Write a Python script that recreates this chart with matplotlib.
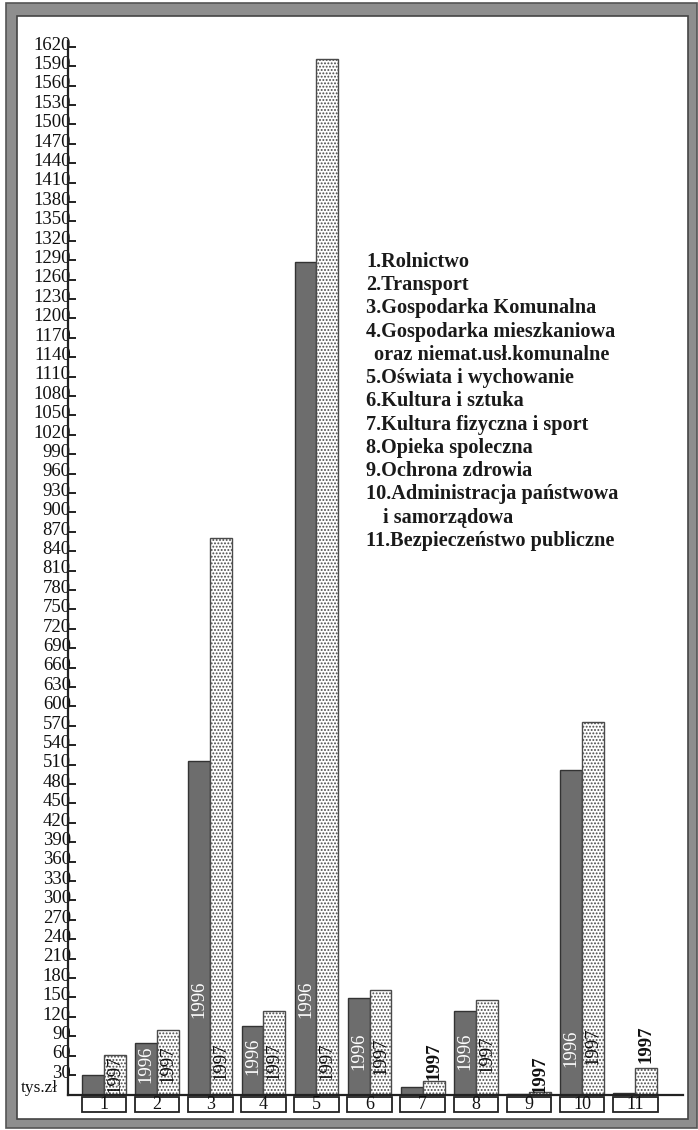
import matplotlib
matplotlib.use('Agg')
import matplotlib.pyplot as plt
from matplotlib.patches import Rectangle
from matplotlib.transforms import ScaledTranslation
import numpy as np

# ---------------- data ----------------
categories = ['1', '2', '3', '4', '5', '6', '7', '8', '9', '10', '11']
values_1996 = [30, 80, 515, 106, 1287, 149, 11, 129, 1, 502, 2]
values_1997 = [61, 99, 860, 129, 1601, 161, 21, 146, 4, 576, 41]
year_labels = ['1996', '1997']
ytick_values = list(range(30, 1621, 30))
unit_label = 'tys.zł'
legend_lines = [
    '1.Rolnictwo',
    '2.Transport',
    '3.Gospodarka Komunalna',
    '4.Gospodarka mieszkaniowa',
    'oraz niemat.usł.komunalne',
    '5.Oświata i wychowanie',
    '6.Kultura i sztuka',
    '7.Kultura fizyczna i sport',
    '8.Opieka spoleczna',
    '9.Ochrona zdrowia',
    '10.Administracja państwowa',
    'i samorządowa',
    '11.Bezpieczeństwo publiczne',
]

# ---------------- layout ----------------
W, H = 698, 1130
SERIF = 'Liberation Serif'
# bottom (data units) of the rotated year labels; None = no label
lab96_bottom = [None, 18, 118, 30, 118, 38, None, 38, None, 42, None]
lab97_bottom = [2, 18, 22, 22, 22, 30, 22, 33, 2, 46, 49]
lab97_outside = [False, False, False, False, False, False, True, False, True, False, True]
legend_x = [366, 366, 366, 366, 374, 366, 366, 366, 366, 366, 366, 383, 366]
legend_y0, legend_dy = 262, 23.25

fig = plt.figure(figsize=(W / 100, H / 100), dpi=100)
fig.patch.set_facecolor('white')

def fx(px):
    return px / W

def fy(py):
    return 1 - py / H

# frame
outer = Rectangle((fx(6), fy(1128)), fx(697) - fx(6), fy(3) - fy(1128),
                  transform=fig.transFigure, facecolor='#8e8e8e',
                  edgecolor='#555555', lw=1.2, zorder=-10)
inner = Rectangle((fx(17), fy(1119)), fx(688) - fx(17), fy(16) - fy(1119),
                  transform=fig.transFigure, facecolor='white',
                  edgecolor='#444444', lw=1.2, zorder=-9)
fig.patches.extend([outer, inner])

ax_left, ax_right = 68, 683
ax_top, ax_base = 41, 1094.5
ax = fig.add_axes([fx(ax_left), fy(ax_base), (ax_right - ax_left) / W,
                   (ax_base - ax_top) / H])
ax.patch.set_alpha(0)

x = np.arange(len(categories))
w = 0.41
ax.bar(x - w, values_1996, width=w, align='edge', color='#6d6d6d',
       edgecolor='#333333', linewidth=1.0, zorder=2)
plt.rcParams['hatch.linewidth'] = 0.9
ax.bar(x, values_1997, width=w, align='edge', color='white',
       edgecolor='#4a4a4a', hatch='.....', linewidth=1.0, zorder=2)

ax.set_xlim(-0.678, 10.9)
ax.set_ylim(0, 1629)

for s in ['top', 'right']:
    ax.spines[s].set_visible(False)
ax.spines['left'].set_linewidth(1.6)
ax.spines['bottom'].set_linewidth(1.6)
ax.spines['left'].set_color('#222222')
ax.spines['bottom'].set_color('#222222')

ax.set_xticks([])
ax.set_yticks(ytick_values)
ax.set_yticklabels([str(v) for v in ytick_values], fontsize=13.5,
                   family=SERIF, color='#111111')
ax.tick_params(axis='y', direction='in', length=5.5, width=1.4, pad=-2,
               color='#222222')
shift = ScaledTranslation(0, -2 / 72, fig.dpi_scale_trans)
for lbl in ax.get_yticklabels():
    lbl.set_verticalalignment('baseline')
    lbl.set_transform(lbl.get_transform() + shift)

# year labels in/above bars
for i in range(len(categories)):
    if lab96_bottom[i] is not None:
        ax.text(x[i] - w / 2, lab96_bottom[i], year_labels[0], rotation=90,
                ha='center', va='bottom', fontsize=13.5, family=SERIF,
                color='white', zorder=3)
    if lab97_bottom[i] is not None:
        ax.text(x[i] + w / 2, lab97_bottom[i], year_labels[1], rotation=90,
                ha='center', va='bottom', fontsize=13.5, family=SERIF,
                color='#111111', zorder=3,
                fontweight='bold' if lab97_outside[i] else 'normal')

# category number boxes below the axis
for i, c in enumerate(categories):
    ax.add_patch(Rectangle((x[i] - 0.42, -27), 0.84, 23, facecolor='white',
                           edgecolor='#222222', lw=1.3, clip_on=False,
                           zorder=3))
    ax.text(x[i], -15.5, c, ha='center', va='center', fontsize=13,
            family=SERIF, color='#111111', clip_on=False, zorder=4)

fig.text(fx(21), fy(1088), unit_label, ha='left', va='center', fontsize=12.5,
         family=SERIF, color='#111111')

for k, line in enumerate(legend_lines):
    fig.text(fx(legend_x[k]), fy(legend_y0 + k * legend_dy), line,
             ha='left', va='center', fontsize=14.6, family=SERIF,
             fontweight='bold', color='#1a1a1a')

fig.savefig('out.png', dpi=100, facecolor='white')
